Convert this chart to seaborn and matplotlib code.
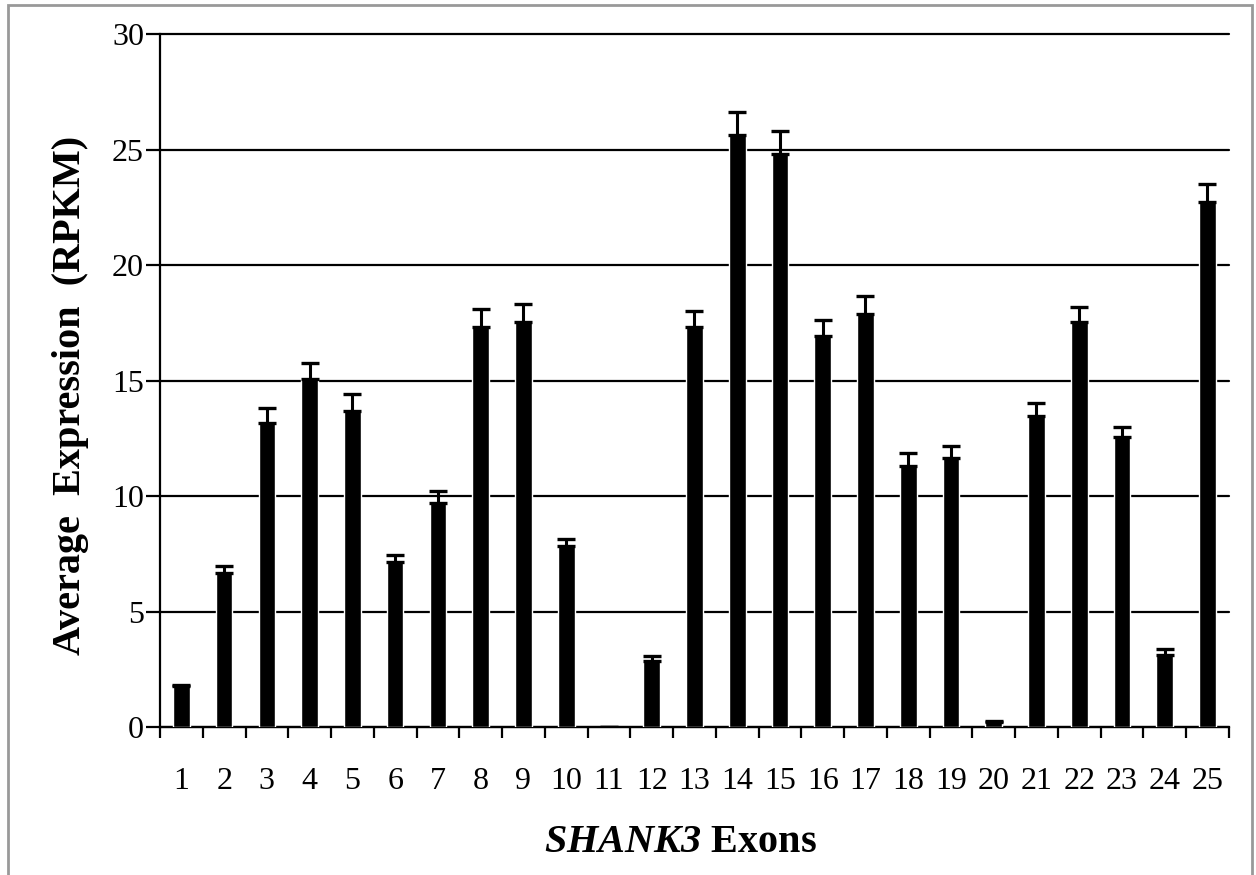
import numpy as np
import pandas as pd
import matplotlib.pyplot as plt
import seaborn as sns
from matplotlib.patches import Rectangle

# values
exons = ['1', '2', '3', '4', '5', '6', '7', '8', '9', '10', '11', '12', '13',
         '14', '15', '16', '17', '18', '19', '20', '21', '22', '23', '24', '25']
expression = [1.77, 6.68, 13.15, 15.06, 13.7, 7.13, 9.68, 17.3, 17.52, 7.84,
              0.0, 2.86, 17.3, 25.63, 24.8, 16.94, 17.87, 11.3, 11.63, 0.2,
              13.46, 17.52, 12.54, 3.12, 22.73]
sem = [0.05, 0.3, 0.65, 0.7, 0.7, 0.3, 0.55, 0.78, 0.79, 0.3,
       0.0, 0.21, 0.7, 1.0, 1.0, 0.7, 0.8, 0.55, 0.53, 0.05,
       0.58, 0.68, 0.43, 0.26, 0.78]
yticks = [0, 5, 10, 15, 20, 25, 30]

df = pd.DataFrame({'Exon': exons, 'RPKM': expression, 'SEM': sem})

sns.set_style('white')
plt.rcParams['font.family'] = ['Liberation Serif', 'DejaVu Serif']
plt.rcParams['mathtext.fontset'] = 'custom'
plt.rcParams['mathtext.rm'] = 'Liberation Serif'
plt.rcParams['mathtext.bfit'] = 'Liberation Serif:italic:bold'
plt.rcParams['text.color'] = 'black'
plt.rcParams['axes.labelcolor'] = 'black'

fig = plt.figure(figsize=(12.56, 8.75), dpi=100)
ax = fig.add_axes([0.1274, 0.1691, 0.851, 0.792])

sns.barplot(data=df, x='Exon', y='RPKM', color='black', saturation=1,
            width=0.39, errorbar=None, ax=ax, zorder=3)
ax.errorbar(np.arange(len(exons)), df['RPKM'],
            yerr=[np.zeros(len(sem)), df['SEM']], fmt='none',
            ecolor='black', elinewidth=2.2, capsize=6.5, capthick=2.4, zorder=4)

ax.set_ylim(0, 30)
ax.set_yticks(yticks)
ax.set_xlim(-0.5, len(exons) - 0.5)
ax.set_xticks(np.arange(-0.5, len(exons), 1), minor=True)

ax.yaxis.grid(True, color='black', lw=1.6)
for gl in ax.get_ygridlines():
    gl.set_clip_on(False)
ax.set_axisbelow(True)

for s in ['top', 'right']:
    ax.spines[s].set_visible(False)
for s in ['left', 'bottom']:
    ax.spines[s].set_color('black')
    ax.spines[s].set_linewidth(1.6)

ax.tick_params(axis='y', direction='out', length=10, width=1.6,
               labelsize=23, pad=1.5, left=True, colors='black')
ax.tick_params(axis='x', which='major', length=0, labelsize=23, pad=29,
               colors='black')
ax.tick_params(axis='x', which='minor', direction='out', length=8,
               width=1.6, bottom=True, colors='black')

ax.set_ylabel('Average  Expression  (RPKM)', fontsize=29, fontweight='bold',
              color='black')
ax.yaxis.set_label_coords(-0.066, 0.478)
ax.set_xlabel(r'$\mathbfit{SHANK3}$ Exons', fontsize=29, fontweight='bold',
              color='black')
ax.xaxis.set_label_coords(0.487, -0.14)

# thin grey frame round the picture
fig.add_artist(Rectangle((0.0064, -0.01), 0.9904, 1.0043,
                         transform=fig.transFigure, fill=False,
                         edgecolor='#999999', lw=2))

fig.savefig('out.png', dpi=100)
